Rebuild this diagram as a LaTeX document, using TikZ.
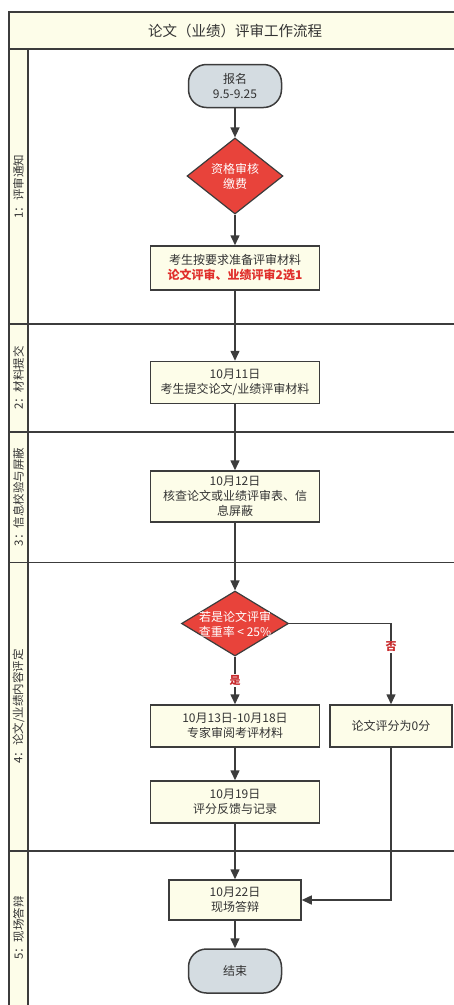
\documentclass[tikz,border=0pt]{standalone}
\usepackage{fontspec}
\setmainfont{Noto Sans CJK SC}
\usetikzlibrary{shapes.geometric,arrows.meta}
\definecolor{ln}{HTML}{3C3C3C}
\definecolor{cream}{HTML}{FDFDE9}
\definecolor{dred}{HTML}{E8433B}
\definecolor{stad}{HTML}{D4DCE1}
\definecolor{txt}{HTML}{333333}
\definecolor{rtxt}{HTML}{E0302C}
\definecolor{lbred}{HTML}{C8282A}
\tikzset{
  frame/.style={draw=ln, line width=1.4pt},
  box/.style={draw=ln, line width=1.5pt, fill=cream, minimum width=169pt, minimum height=42pt, inner sep=0pt, align=center, text=txt, font=\fontsize{12}{15}\selectfont},
  stadium/.style={draw=ln, line width=1.5pt, fill=stad, minimum width=93pt, minimum height=43pt, rounded corners=18pt, inner sep=0pt, align=center, text=txt, font=\fontsize{12}{15}\selectfont},
  dia/.style={diamond, draw=ln, line width=1.2pt, fill=dred, inner sep=0pt},
  diatext/.style={align=center, text=white, font=\fontsize{12}{15}\selectfont, inner sep=0pt},
  arr/.style={draw=ln, line width=1.5pt, -{Triangle[length=10pt,width=9pt]}},
  lane/.style={rotate=90, text=txt, font=\fontsize{11.5}{14}\selectfont},
  lbl/.style={fill=white, text=lbred, font=\bfseries\fontsize{11}{13}\selectfont, inner sep=1pt},
}
\begin{document}
\begin{tikzpicture}[x=1pt,y=-1pt]
\useasboundingbox (0,0) rectangle (454,1005);
% title bar and lane column
\fill[cream] (9,12) rectangle (460,49);
\fill[cream] (9,49) rectangle (28,1010);
\draw[frame] (460,12) -- (9,12) -- (9,1010);
\draw[frame] (9,49) -- (460,49);
\draw[frame] (28,49) -- (28,1010);
\draw[frame] (9,324) -- (460,324);
\draw[frame] (9,432) -- (460,432);
\draw[frame] (9,562.5) -- (460,562.5);
\draw[frame] (9,851) -- (460,851);
\node[text=txt, font=\fontsize{14.5}{17}\selectfont] (title) at (235,31) {论文（业绩）评审工作流程};
% lane labels
\node[lane] (l1) at (18.5,186.5) {1：评审通知};
\node[lane] (l2) at (18.5,378) {2：材料提交};
\node[lane] (l3) at (18.5,497) {3：信息校验与屏蔽};
\node[lane] (l4) at (18.5,706.5) {4：论文/业绩内容评定};
\node[lane] (l5) at (18.5,928) {5：现场答辩};
% nodes
\node[stadium] (start) at (235,86) {报名\\9.5-9.25};
\node[dia, minimum width=96pt, minimum height=76pt] (d1) at (235,176) {};
\node[diatext] (d1t) at (235,176) {资格审核\\缴费};
\node[box, minimum height=44pt] (b1) at (235,268) {考生按要求准备评审材料\\{\color{rtxt}\bfseries 论文评审、业绩评审2选1}};
\node[box] (b2) at (235,382.5) {10月11日\\考生提交论文/业绩评审材料};
\node[box, minimum height=51pt] (b3) at (235,496.5) {10月12日\\核查论文或业绩评审表、信\\息屏蔽};
\node[dia, minimum width=107pt, minimum height=65pt] (d2) at (235,623.5) {};
\node[diatext] (d2t) at (235,624) {若是论文评审\\查重率 < 25\%};
\node[box] (b4) at (235,726) {10月13日-10月18日\\专家审阅考评材料};
\node[box, minimum width=122pt] (b0) at (391,726) {论文评分为0分};
\node[box] (b5) at (235,802) {10月19日\\评分反馈与记录};
\node[box, minimum width=132pt, minimum height=40pt] (b6) at (235,900) {10月22日\\现场答辩};
\node[stadium, minimum height=44pt] (end) at (235,971) {结束};
% connectors
\draw[arr] (start) -- (d1);
\draw[arr] (d1) -- (b1);
\draw[arr] (b1) -- (b2);
\draw[arr] (b2) -- (b3);
\draw[arr] (b3) -- (d2);
\draw[arr] (d2) -- node[lbl] (yes) {是} (b4);
\draw[arr] (d2.east) -| node[lbl, pos=0.645] (no) {否} (b0);
\draw[arr] (b4) -- (b5);
\draw[arr] (b5) -- (b6);
\draw[arr] (b0) |- (b6);
\draw[arr] (b6) -- (end);
\end{tikzpicture}
\end{document}
